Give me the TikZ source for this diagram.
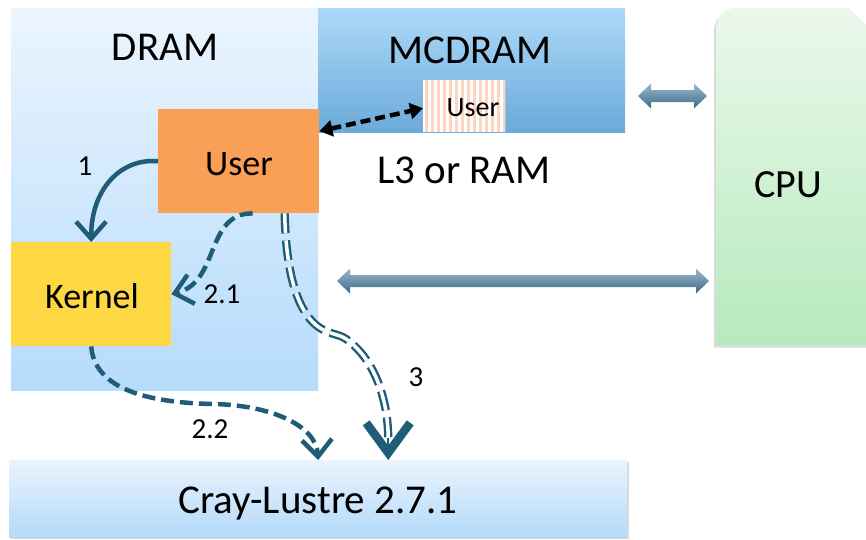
\documentclass[tikz,border=0pt]{standalone}
\usepackage{fontspec}
\setmainfont{Carlito}
\usetikzlibrary{arrows.meta,shadows}

\definecolor{dramtop}{HTML}{EBF5FE}
\definecolor{drambot}{HTML}{B6DBFB}
\definecolor{mctop}{HTML}{ADD9F9}
\definecolor{mcbot}{HTML}{6BAAD9}
\definecolor{userorange}{HTML}{F99F56}
\definecolor{kernelyellow}{HTML}{FED843}
\definecolor{stripe}{HTML}{FCD6C1}
\definecolor{cputop}{HTML}{EBF8EC}
\definecolor{cpubot}{HTML}{B6EABD}
\definecolor{lustretop}{HTML}{EAF4FE}
\definecolor{lustrebot}{HTML}{B4D9FA}
\definecolor{flowteal}{HTML}{1F5C78}
\definecolor{bustop}{HTML}{9DB8CC}
\definecolor{busbot}{HTML}{3B6A88}

% horizontal double-headed bus arrow: x-left, x-right, y-centre
\newcommand\busarrow[3]{%
  \shade[top color=bustop, bottom color=busbot]
    (#1,#3) -- (#1+13,#3-12.5) -- (#1+13,#3-6) -- (#2-13,#3-6) -- (#2-13,#3-12.5)
    -- (#2,#3) -- (#2-13,#3+12.5) -- (#2-13,#3+6) -- (#1+13,#3+6) -- (#1+13,#3+12.5) -- cycle;}

\begin{document}
\begin{tikzpicture}[x=1pt,y=-1pt,
  box/.style={rectangle, draw=none, inner sep=0pt, anchor=north west},
  txtL/.style={font=\fontsize{41}{49}\selectfont, anchor=base, inner sep=0pt},
  txtM/.style={font=\fontsize{36}{43}\selectfont, anchor=base, inner sep=0pt},
  txtS/.style={font=\fontsize{28}{34}\selectfont, anchor=base, inner sep=0pt},
  txtN/.style={font=\fontsize{29}{35}\selectfont, anchor=base, inner sep=0pt},
  flow/.style={draw=flowteal, line width=4.5pt},
  flowdash/.style={flow, dash pattern=on 13pt off 6pt},
  barb/.style={-{Straight Barb[length=17pt,width=30pt,line width=4.5pt]}},
]
\useasboundingbox (0,0) rectangle (866,539);

% memory regions
\node[box, top color=dramtop, bottom color=drambot, minimum width=307pt, minimum height=382pt] (dram) at (11,8) {};
\node[box, top color=mctop, bottom color=mcbot, minimum width=307pt, minimum height=124pt] (mcdram) at (318,8) {};
\node[box, fill=userorange, minimum width=161pt, minimum height=104pt] (user) at (158,109) {};
\node[box, fill=kernelyellow, minimum width=160pt, minimum height=104pt] (kernel) at (11,242) {};
\node[box, fill=white, minimum width=82pt, minimum height=52pt] (smalluser) at (423,80) {};
\begin{scope}
  \clip (smalluser.north west) rectangle (smalluser.south east);
  \foreach \i in {0,...,14} \fill[stripe] (423+6*\i+1.5,80) rectangle ++(3,52);
\end{scope}

% file system
\node[box, top color=lustretop, bottom color=lustrebot, minimum width=618pt, minimum height=77pt,
  drop shadow={shadow xshift=1.5pt, shadow yshift=-2pt, opacity=0.3}] (cray) at (9,460) {};

% processor
\path[top color=cputop, bottom color=cpubot,
  drop shadow={shadow xshift=-2pt, shadow yshift=-2.5pt, opacity=0.3}]
  (716,345) -- (716,28) arc[start angle=180, end angle=90, radius=20pt]
  -- (849,8) -- (872,31) -- (872,345) -- cycle;

% buses to the processor
\busarrow{638}{707}{96}
\busarrow{337}{709}{281}

% labels
\node[txtL] (dramtxt) at (165,60) {DRAM};
\node[txtL] (mctxt) at (470,63) {MCDRAM};
\node[txtS] (smalltxt) at (473,116) {User};
\node[txtM] (usertxt) at (239,175) {User};
\node[txtL] (l3txt) at (464,183) {L3 or RAM};
\node[txtL, font=\fontsize{40}{48}\selectfont] (cputxt) at (788,197) {CPU};
\node[txtM] (kerneltxt) at (92,308) {Kernel};
\node[txtL] (crtxt) at (318,513) {Cray-Lustre 2.7.1};
\node[txtN] (n1) at (85,175) {1};
\node[txtN] (n21) at (222,303) {2.1};
\node[txtN] (n3) at (416,386) {3};
\node[txtN] (n22) at (210,438) {2.2};

% data paths
\draw[line width=4.5pt, dash pattern=on 10pt off 5pt,
  {Triangle[length=13pt,width=16pt]}-{Triangle[length=13pt,width=16pt]}]
  ([yshift=30pt]user.east) -- ([yshift=-2pt]smalluser.west);

\draw[flow, barb] (user.west) .. controls (120,158) and (91,190) .. (kernel.north);

\draw[flowdash, barb] ([xshift=14pt]user.south) .. controls (205,213) and (220,282) .. (kernel.east);

\draw[flowdash, barb] (kernel.south) .. controls (95,397) and (170,403) .. (213,404)
  .. controls (270,405) and (316,425) .. (cray.north);

\coordinate (c3tip) at ([xshift=70pt]cray.north);
\coordinate (c3neck) at ([yshift=22pt]c3tip);
\draw[draw=flowteal, line width=2.4pt, double=white, double distance=3.5pt, dash pattern=on 20pt off 7pt]
  ([xshift=46pt]user.south) .. controls (286,280) and (300,315) .. (320,328)
  .. controls (333,336) and (340,333) .. (350,342)
  .. controls (375,362) and (388,400) .. (c3neck);
\draw[draw=flowteal, line width=2pt, -{Straight Barb[length=30pt,width=44pt,line width=8.5pt]}] (c3neck) -- (c3tip);
\end{tikzpicture}
\end{document}
